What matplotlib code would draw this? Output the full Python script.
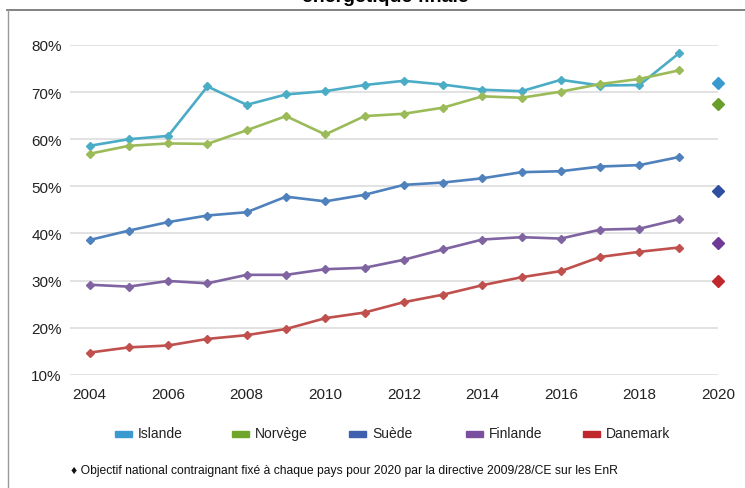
import matplotlib
matplotlib.use("Agg")
import matplotlib.pyplot as plt
from matplotlib.lines import Line2D
from matplotlib.patches import Rectangle

years = list(range(2004, 2020))
target_year = 2020

countries = ["Islande", "Norvège", "Suède", "Finlande", "Danemark"]
islande = [58.6, 60.0, 60.7, 71.2, 67.3, 69.5, 70.2, 71.5, 72.4, 71.6, 70.5, 70.2, 72.6, 71.4, 71.5, 78.2]
norvege = [56.9, 58.6, 59.1, 59.0, 61.9, 64.9, 61.0, 64.9, 65.4, 66.7, 69.1, 68.8, 70.1, 71.7, 72.8, 74.6]
suede = [38.6, 40.6, 42.4, 43.8, 44.5, 47.8, 46.8, 48.2, 50.3, 50.8, 51.7, 53.0, 53.2, 54.2, 54.5, 56.2]
finlande = [29.1, 28.7, 29.9, 29.4, 31.2, 31.2, 32.4, 32.7, 34.4, 36.6, 38.7, 39.2, 38.9, 40.8, 41.0, 43.0]
danemark = [14.7, 15.8, 16.2, 17.6, 18.4, 19.7, 22.0, 23.2, 25.4, 27.0, 29.0, 30.7, 32.0, 35.0, 36.1, 37.0]
targets = [72.0, 67.5, 49.0, 38.0, 30.0]

series = [islande, norvege, suede, finlande, danemark]
line_colors = ["#4BACC6", "#9BBB59", "#4F81BD", "#8064A2", "#C0504D"]
target_colors = ["#3A9AD0", "#6A9E2A", "#2F4FA0", "#6E3A96", "#C0282D"]
legend_colors = ["#3A9AD0", "#6FA52B", "#3F5FAF", "#7B4FA0", "#C0272D"]

yticks = [10, 20, 30, 40, 50, 60, 70, 80]
ytick_labels = ["10%", "20%", "30%", "40%", "50%", "60%", "70%", "80%"]
xticks = [2004, 2006, 2008, 2010, 2012, 2014, 2016, 2018, 2020]

title_text = "énergétique finale"
note_text = "\u2666 Objectif national contraignant fixé à chaque pays pour 2020 par la directive 2009/28/CE sur les EnR"

W, H = 745, 489
fig = plt.figure(figsize=(W / 100, H / 100), dpi=100)
fam = ["Liberation Sans", "DejaVu Sans"]

ax = fig.add_axes([70 / W, 1 - 375.7 / H, (718 - 70) / W, (375.7 - 46) / H])
for vals, c in zip(series, line_colors):
    ax.plot(years, vals, color=c, lw=1.9, marker="D", markersize=4.2, zorder=3)
for t, c in zip(targets, target_colors):
    ax.plot([target_year], [t], linestyle="none", marker="D", markersize=6.5,
            color=c, clip_on=False, zorder=4)

ax.set_xlim(2003.5, 2020)
ax.set_ylim(10, 80)
ax.set_yticks(yticks)
ax.set_yticklabels(ytick_labels, family=fam, fontsize=11, color="#222222")
ax.set_xticks(xticks)
ax.set_xticklabels([str(x) for x in xticks], family=fam, fontsize=11, color="#222222")
ax.tick_params(axis="both", length=0)
ax.tick_params(axis="y", pad=6)
ax.tick_params(axis="x", pad=9)
for s in ax.spines.values():
    s.set_visible(False)
ax.grid(axis="y", color="#DDDDDD", lw=1.2)
ax.set_axisbelow(True)

# legend (manual, fixed-width entries)
leg_x0 = 115
leg_step = 117
leg_y = 434
for i, (name, c) in enumerate(zip(countries, legend_colors)):
    x = leg_x0 + i * leg_step
    fig.patches.append(Rectangle((x / W, 1 - (leg_y + 4) / H), 17 / W, 6 / H,
                                 transform=fig.transFigure, color=c))
    fig.text((x + 23) / W, 1 - leg_y / H, name, family=fam, fontsize=10,
             va="center", ha="left", color="#222222")

fig.text(71 / W, 1 - 471 / H, note_text, family=fam, fontsize=8.7,
         va="center", ha="left", color="#111111")

fig.text(385 / W, 1 - 1.5 / H, title_text, family=fam,
         fontsize=14, fontweight="bold", ha="center", va="baseline")

# frame
fig.lines.append(Line2D([7 / W, 1], [1 - 11 / H, 1 - 11 / H], transform=fig.transFigure,
                        color="#777777", lw=1.3))
fig.lines.append(Line2D([8 / W, 8 / W], [1 - 11 / H, 0], transform=fig.transFigure,
                        color="#999999", lw=1.0))

fig.savefig("out.png", dpi=100)
